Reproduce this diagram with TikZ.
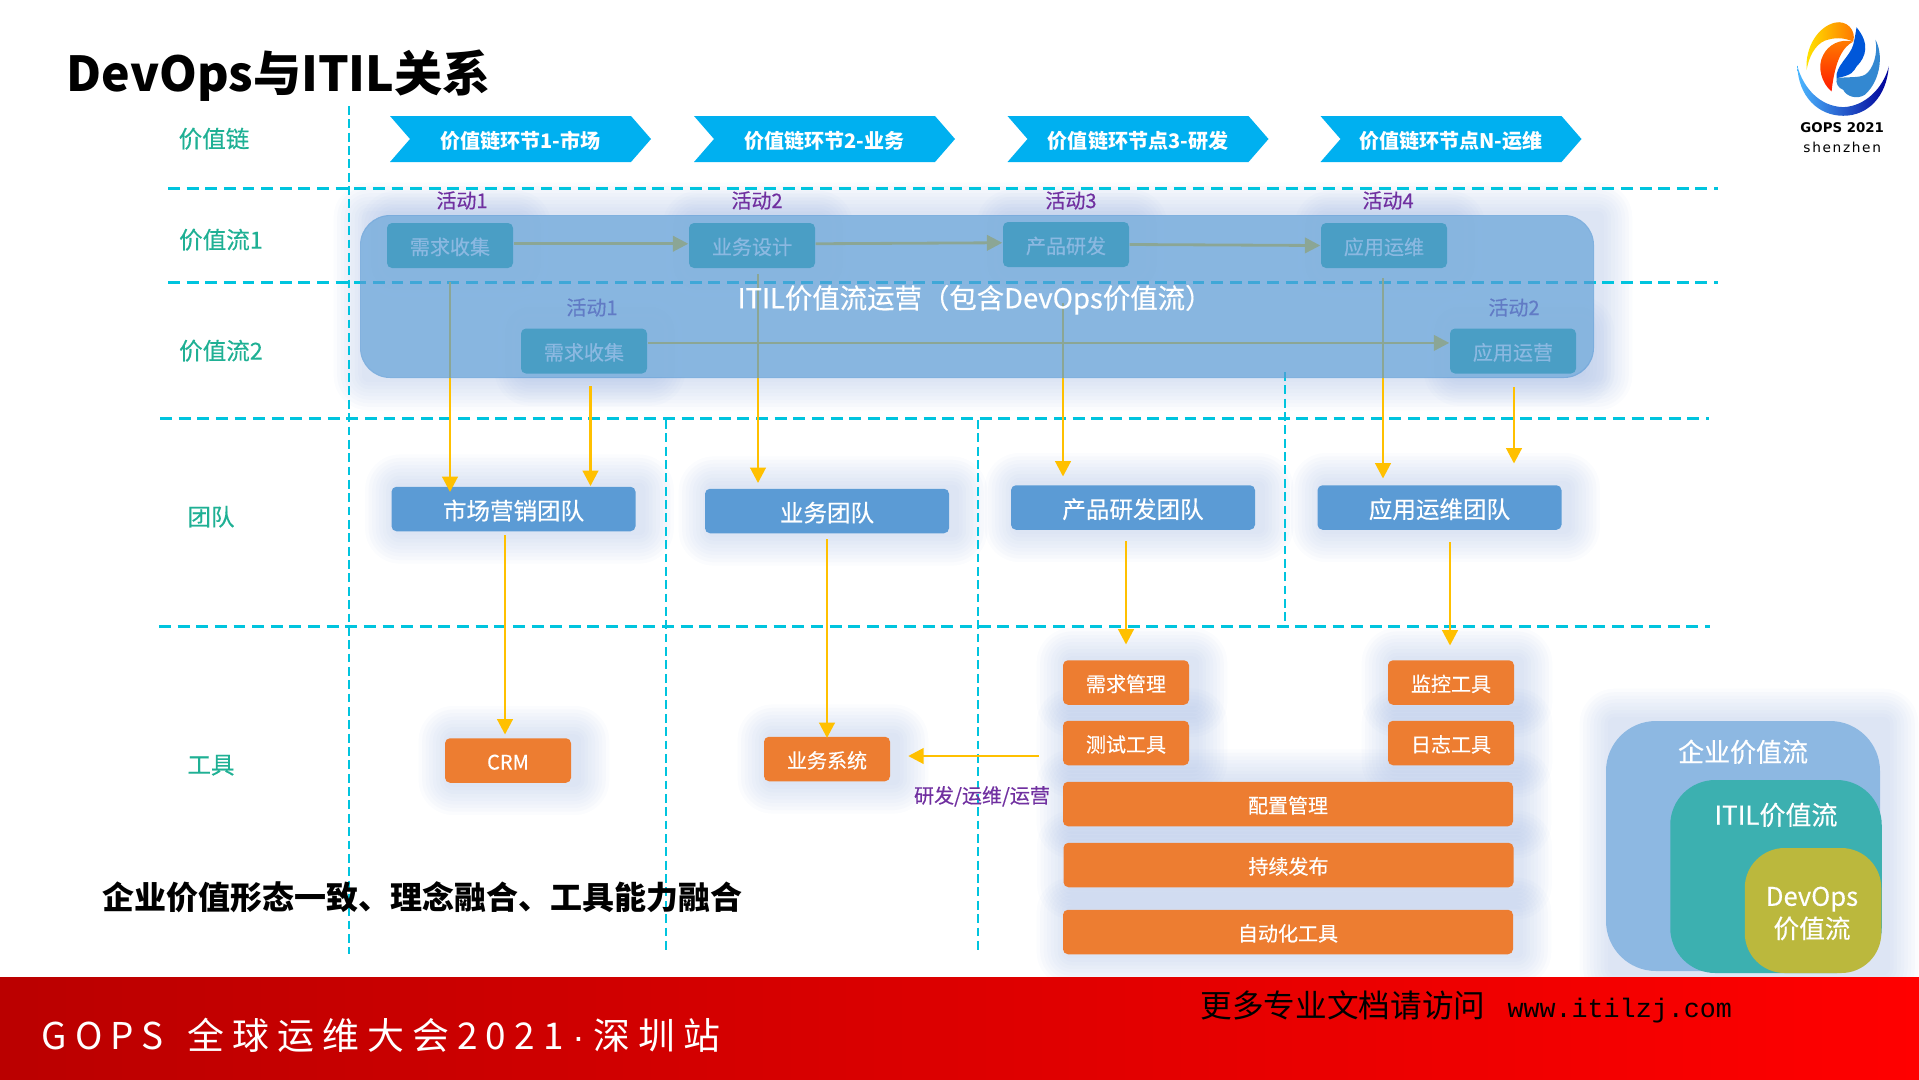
\documentclass[tikz,border=0pt]{standalone}
\usepackage{fontspec}
\setmainfont{Noto Sans CJK SC}
\newfontfamily\semifont[FakeBold=.35]{Noto Sans CJK SC}
\newfontfamily\footfont[LetterSpace=22]{Noto Sans CJK SC}
\newfontfamily\dotfont{Liberation Sans}
\newfontfamily\urlfont{Liberation Mono}
\newfontfamily\logofont{DejaVu Sans}
\newfontfamily\logospaced[LetterSpace=12]{DejaVu Sans}
\usetikzlibrary{arrows.meta,shapes.symbols,backgrounds}
\definecolor{linecyan}{HTML}{00C4DE}
\definecolor{chainblue}{HTML}{00B0F0}
\definecolor{rowgreen}{HTML}{1FB094}
\definecolor{actpurple}{HTML}{7030A0}
\definecolor{boxteal}{HTML}{22A8A0}
\definecolor{teamblue}{HTML}{5B9BD5}
\definecolor{toolorange}{HTML}{ED7D31}
\definecolor{flowyellow}{HTML}{FFC000}
\definecolor{glowblue}{HTML}{8FAADC}
\definecolor{entblue}{HTML}{8DB8E2}
\definecolor{itilteal}{HTML}{3CB0B0}
\definecolor{devolive}{HTML}{BBB83D}
\tikzset{
  fs/.style={text height=#1pt,text depth=.1*#1pt},
  hline/.style={linecyan,line width=.85pt,dash pattern=on 3.4pt off 1.9pt},
  vline/.style={linecyan,line width=.6pt,dash pattern=on 2.5pt off 1.3pt},
  chain/.style={signal,signal to=east,signal from=west,signal pointer angle=98,fill=chainblue,text=white,fs=5.7,
    minimum width=2.61cm,minimum height=.46cm,inner sep=0,font=\fontsize{5.7}{7}\selectfont\bfseries},
  rowlabel/.style={text=rowgreen,fs=6.7,font=\fontsize{6.7}{8}\semifont},
  actlabel/.style={text=actpurple,fs=5.7,font=\fontsize{5.7}{7}\semifont},
  actbox/.style={fill=boxteal,text=white,rounded corners=.05cm,minimum width=1.26cm,minimum height=.45cm,inner sep=0,fs=5.7,font=\fontsize{5.7}{7}\semifont},
  team/.style={fill=teamblue,text=white,rounded corners=.05cm,minimum width=2.44cm,minimum height=.445cm,inner sep=0,fs=6.7,font=\fontsize{6.7}{8}\semifont},
  tool/.style={fill=toolorange,text=white,rounded corners=.05cm,minimum width=1.26cm,minimum height=.445cm,inner sep=0,fs=5.7,font=\fontsize{5.7}{7}\semifont},
  widetool/.style={tool,minimum width=4.5cm},
  flow/.style={flowyellow,line width=.8pt,-{Triangle[length=4.4pt,width=4.4pt]}},
  nest/.style={inner sep=0},
  nesttext/.style={text=white,align=center,font=\fontsize{7.4}{9.4}\semifont},
}
\begin{document}
\begin{tikzpicture}[x=1cm,y=-1cm]
  \useasboundingbox (0,0) rectangle (19.19,10.79);

  % grid
  \draw[hline] (1.68,1.88) -- (17.18,1.88);
  \draw[hline] (1.68,2.82) -- (17.18,2.82);
  \draw[hline] (1.60,4.18) -- (17.09,4.18);
  \draw[hline] (1.59,6.26) -- (17.10,6.26);
  \draw[vline] (3.49,1.06) -- (3.49,9.54);
  \draw[vline] (6.66,4.20) -- (6.66,9.54);
  \draw[vline] (9.78,4.20) -- (9.78,9.54);
  \draw[vline] (12.85,3.72) -- (12.85,6.26);

  \node[fs=13.7,font=\fontsize{13.7}{16}\selectfont\bfseries,anchor=west,inner sep=0] (title) at (.66,.70) {DevOps与ITIL关系};

  % value chain
  \node[chain] (chain1) at (5.205,1.39) {价值链环节1-市场};
  \node[chain] (chain2) at (8.245,1.39) {价值链环节2-业务};
  \node[chain] (chain3) at (11.38,1.39) {价值链环节点3-研发};
  \node[chain] (chain4) at (14.51,1.39) {价值链环节点N-运维};

  \node[rowlabel] (rchain) at (2.14,1.37) {价值链};
  \node[rowlabel] (rflow1) at (2.21,2.38) {价值流1};
  \node[rowlabel] (rflow2) at (2.21,3.49) {价值流2};
  \node[rowlabel] (rteam) at (2.11,5.15) {团队};
  \node[rowlabel] (rtool) at (2.11,7.63) {工具};

  \node[actlabel] (act1) at (4.62,1.99) {活动1};
  \node[actlabel] (act2) at (7.57,1.99) {活动2};
  \node[actlabel] (act3) at (10.71,1.99) {活动3};
  \node[actlabel] (act4) at (13.88,1.99) {活动4};
  \node[actlabel] (act5) at (5.92,3.06) {活动1};
  \node[actlabel] (act6) at (15.14,3.06) {活动2};

  % teams and tools
  \node[team] (market) at (5.135,5.09) {市场营销团队};
  \node[team] (bizteam) at (8.27,5.11) {业务团队};
  \node[team] (rndteam) at (11.33,5.075) {产品研发团队};
  \node[team] (opsteam) at (14.395,5.075) {应用运维团队};

  \node[tool] (crm) at (5.08,7.605) {CRM};
  \node[tool] (biz) at (8.27,7.59) {业务系统};
  \node[tool] (reqtool) at (11.26,6.825) {需求管理};
  \node[tool] (montool) at (14.51,6.825) {监控工具};
  \node[tool] (testtool) at (11.26,7.43) {测试工具};
  \node[tool] (logtool) at (14.51,7.43) {日志工具};
  \node[widetool] (config) at (12.88,8.04) {配置管理};
  \node[widetool] (release) at (12.885,8.65) {持续发布};
  \node[widetool] (auto) at (12.88,9.32) {自动化工具};

  % activities, under the big panel
  \node[actbox] (need1) at (4.50,2.455) {需求收集};
  \node[actbox] (design1) at (7.52,2.455) {业务设计};
  \node[actbox] (rnd1) at (10.66,2.445) {产品研发};
  \node[actbox] (ops1) at (13.84,2.455) {应用运维};
  \node[actbox] (need2) at (5.84,3.51) {需求收集};
  \node[actbox] (ops2) at (15.13,3.51) {应用运营};

  \draw[flow] ([yshift=.5pt]need1.east) -- ([yshift=.5pt]design1.west);
  \draw[flow] ([yshift=.5pt]design1.east) -- ([yshift=.5pt]rnd1.west);
  \draw[flow] (rnd1.east) -- (ops1.west);
  \draw[flow] ([yshift=2.3pt]need2.east) -- ([yshift=2.3pt]ops2.west);

  \coordinate (fromneed1) at (4.50,2.82);
  \coordinate (fromneed2) at (5.905,3.86);
  \coordinate (fromdesign) at (7.58,2.74);
  \coordinate (fromrnd) at (10.63,3.03);
  \coordinate (fromops1) at (13.83,2.78);
  \coordinate (fromops2) at (15.14,3.87);
  \draw[flow,shorten >=-.06cm] (fromneed1) -- (fromneed1 |- market.north);
  \draw[flow] (fromneed2) -- (fromneed2 |- market.north);
  \draw[flow,shorten >=.05cm] (fromdesign) -- (fromdesign |- bizteam.north);
  \draw[flow,shorten >=.08cm] (fromrnd) -- (fromrnd |- rndteam.north);
  \draw[flow,shorten >=.06cm] (fromops1) -- (fromops1 |- opsteam.north);
  \draw[flow,shorten >=.21cm] (fromops2) -- (fromops2 |- opsteam.north);

  \node[fill=teamblue,fill opacity=.7,rounded corners=.3cm,inner sep=0,minimum width=12.34cm,minimum height=1.63cm] (panel) at (9.77,2.965) {};
  \node[text=white,fs=7.8,font=\fontsize{7.8}{9}\semifont] (paneltext) at (9.75,2.96) {ITIL价值流运营（包含DevOps价值流）};

  % team to tool
  \coordinate (frommarket) at (5.05,5.35);
  \coordinate (frombiz) at (8.27,5.39);
  \coordinate (fromrndteam) at (11.26,5.41);
  \coordinate (fromopsteam) at (14.50,5.42);
  \coordinate (fromdev) at (10.39,7.56);
  \draw[flow,shorten >=.03cm] (frommarket) -- (frommarket |- crm.north);
  \draw[flow,shorten >=-.02cm] (frombiz) -- (frombiz |- biz.north);
  \draw[flow,shorten >=.15cm] (fromrndteam) -- (fromrndteam |- reqtool.north);
  \draw[flow,shorten >=.14cm] (fromopsteam) -- (fromopsteam |- montool.north);
  \draw[flow,shorten >=.175cm] (fromdev) -- (fromdev -| biz.east);
  \node[actlabel] (devlabel) at (9.82,7.94) {研发/运维/运营};

  \node[fs=9.1,font=\fontsize{9.1}{11}\selectfont\bfseries,anchor=west,inner sep=0] (summary) at (1.02,8.95) {企业价值形态一致、理念融合、工具能力融合};

  % nested values
  \node[nest,fill=entblue,rounded corners=.5cm,minimum width=2.74cm,minimum height=2.5cm] (entbox) at (17.43,8.46) {};
  \node[nest,fill=itilteal,rounded corners=.45cm,minimum width=2.115cm,minimum height=1.93cm] (itilbox) at (17.76,8.765) {};
  \node[nest,fill=devolive,rounded corners=.4cm,minimum width=1.365cm,minimum height=1.25cm] (devbox) at (18.13,9.105) {};
  \node[nesttext,fs=7.4] (enttext) at (17.43,7.50) {企业价值流};
  \node[nesttext,fs=7.4] (itiltext) at (17.76,8.13) {ITIL价值流};
  \node[nesttext,font=\fontsize{7.3}{9.2}\semifont] (devtext) at (18.12,9.135) {DevOps\\价值流};

  % soft glow behind the boxes
  \begin{scope}[on background layer]
    \foreach \n in {market,bizteam,rndteam,opsteam,crm,biz,reqtool,montool,testtool,logtool,config,release,auto,panel,need1,design1,rnd1,ops1,need2,ops2,entbox}
      \foreach \g in {1,...,9}
        \fill[glowblue,opacity=.04,rounded corners={(\g+1)*1pt}] ([xshift=1.7pt-\g pt,yshift=\g pt]\n.north west) rectangle ([xshift=1.7pt+\g pt,yshift=-\g pt]\n.south east);
    \fill[white,opacity=.75,rounded corners=.3cm] ([shift={(.5pt,-.5pt)}]panel.north west) rectangle ([shift={(-.5pt,.5pt)}]panel.south east);
  \end{scope}

  % footer
  \fill[left color=red!73!black,right color=red] (0,9.77) rectangle (19.19,10.79);
  \node[text=white,anchor=west,inner sep=0,fs=10.5,font=\fontsize{10.5}{12}\footfont] (foot) at (.41,10.33) {GOPS\hspace{2pt} 全球运维大会2021\hspace{2.5pt}{\dotfont ·}\hspace{2.5pt}深圳站};
  \node[anchor=west,inner sep=0,fs=9,font=\fontsize{9}{11}\selectfont] (more) at (12.00,10.03) {更多专业文档请访问\hspace{.7em}{\fontsize{7.6}{11}\urlfont www.itilzj.com}};

  % logo
  \begin{scope}[shift={(17.85,.10)},x=.00333cm,y=-.00333cm]
    \shade[left color=cyan!60!blue!70,right color=blue!60!black] (37,168) .. controls (40,260) and (100,318) .. (175,318) .. controls (250,318) and (305,260) .. (312,170) .. controls (295,235) and (240,290) .. (175,292) .. controls (105,290) and (55,235) .. (37,168);
    \shade[left color=yellow!80!orange,right color=orange!90!red] (65,180) .. controls (60,110) and (100,50) .. (150,38) .. controls (185,30) and (215,60) .. (205,95) .. controls (175,82) and (150,82) .. (120,92) .. controls (90,105) and (72,140) .. (65,180);
    \shade[top color=orange,bottom color=red!80!orange] (205,95) .. controls (175,110) and (150,150) .. (140,245) .. controls (110,220) and (95,170) .. (115,135) .. controls (130,105) and (165,85) .. (205,95);
    \fill[blue!60!cyan!85!black] (215,52) .. controls (255,100) and (245,140) .. (215,170) .. controls (205,185) and (205,195) .. (155,205) .. controls (150,170) and (195,140) .. (205,105) .. controls (210,85) and (212,70) .. (215,52);
    \fill[cyan!60!blue!85] (155,205) .. controls (190,200) and (220,205) .. (240,195) .. controls (265,180) and (280,130) .. (272,90) .. controls (295,130) and (290,210) .. (240,255) .. controls (215,270) and (185,260) .. (175,240) .. controls (160,235) and (152,220) .. (155,205);
    \node[font=\fontsize{3.8}{5}\logofont\bfseries] (logotop) at (172,355) {GOPS 2021};
    \node[font=\fontsize{3.9}{5}\logospaced] (logocity) at (172,412) {shenzhen};
  \end{scope}
\end{tikzpicture}
\end{document}
